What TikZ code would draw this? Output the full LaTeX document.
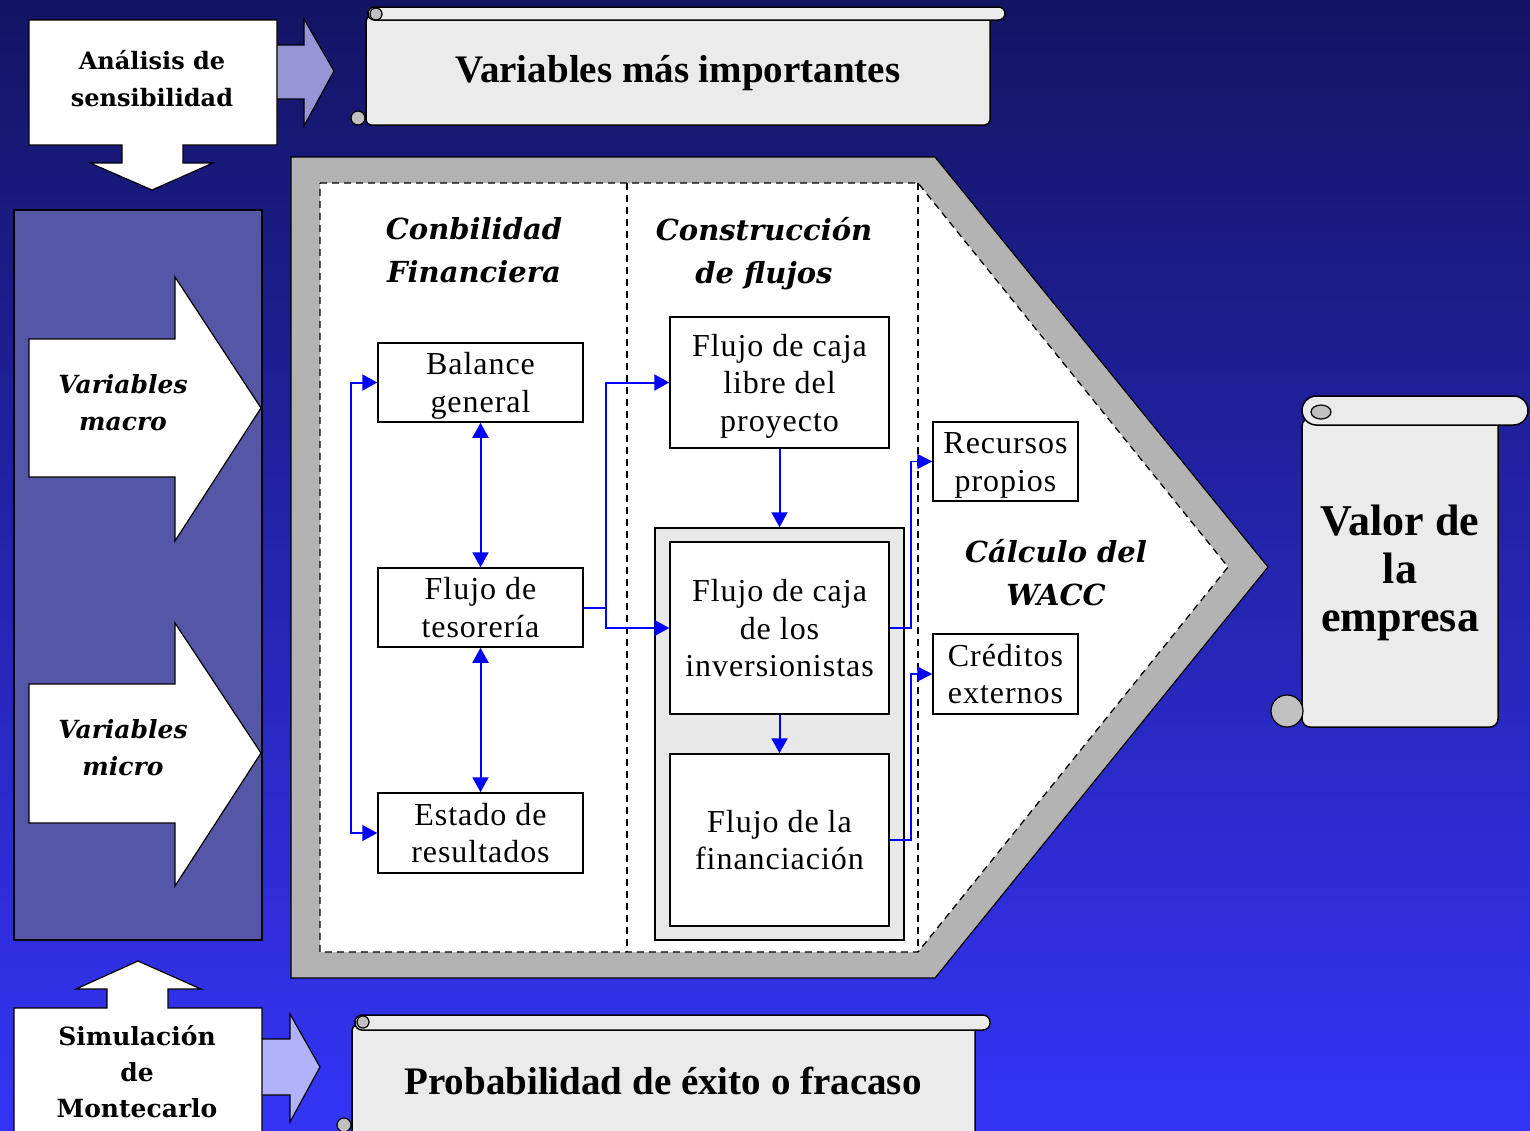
\documentclass[tikz,border=0pt]{standalone}
\usepackage{fontspec}
\setmainfont{Liberation Serif}
\newfontfamily\dvserif{DejaVu Serif}
\newfontfamily\boxfont[LetterSpace=3]{Liberation Serif}
\usetikzlibrary{arrows.meta}
\definecolor{bgtop}{RGB}{20,20,100}
\definecolor{bgmid}{RGB}{35,35,172}
\definecolor{bgbot}{RGB}{52,52,248}
\definecolor{framegray}{RGB}{179,179,179}
\definecolor{scrollfill}{RGB}{235,235,235}
\definecolor{curlgray}{RGB}{192,192,192}
\definecolor{colfill}{RGB}{86,86,166}
\definecolor{patA}{RGB}{150,150,215}
\definecolor{patB}{RGB}{178,178,250}
\definecolor{contfill}{RGB}{232,232,232}
\definecolor{linkblue}{RGB}{0,0,255}
\newcommand{\tstr}{\rule{0pt}{30pt}}
\newcommand{\bstr}{\rule[-8pt]{0pt}{8pt}}
\begin{document}
\begin{tikzpicture}[x=1pt,y=-1pt,
  outl/.style={draw=black, line width=1.2pt},
  scrollbody/.style={draw=black, line width=1.5pt, fill=scrollfill},
  curl/.style={draw=black, line width=1.2pt, fill=curlgray},
  fbox/.style={draw=black, line width=1.5pt, fill=white, inner sep=0pt, align=center, font=\boxfont\fontsize{32}{37.5}\selectfont},
  sidetxt/.style={align=center, inner sep=0pt, font=\dvserif\bfseries\fontsize{24}{37}\selectfont},
  sidetit/.style={align=center, inner sep=0pt, font=\dvserif\bfseries\itshape\fontsize{25}{37}\selectfont},
  sectit/.style={align=center, inner sep=0pt, font=\dvserif\bfseries\itshape\fontsize{29}{43}\selectfont},
  scrolltxt/.style={align=center, inner sep=0pt, font=\bfseries\fontsize{39}{48}\selectfont},
  link/.style={draw=linkblue, line width=2pt},
  linkone/.style={link, -{Triangle[length=15pt,width=16pt]}},
  linktwo/.style={link, {Triangle[length=15pt,width=16pt]}-{Triangle[length=15pt,width=16pt]}},
  linkthin/.style={draw=linkblue, line width=1.5pt, -{Triangle[length=15pt,width=15pt]}},
  dashline/.style={draw=black, line width=1.3pt, dash pattern=on 7pt off 5pt}
]
\useasboundingbox (0,0) rectangle (1530,1130);
\clip (0,0) rectangle (1530,1130);
% background
\shade[top color=bgtop, middle color=bgmid, bottom color=bgbot] (0,0) rectangle (1530,1130);

% ---- Analisis de sensibilidad callout
\filldraw[outl, fill=patA] (270,45) -- (304,45) -- (304,19) -- (334,71) -- (304,126) -- (304,99) -- (270,99) -- cycle;
\filldraw[outl, fill=white] (29,20) -- (277,20) -- (277,145) -- (183,145) -- (183,163) -- (213,163) -- (152,190) -- (90,163) -- (122,163) -- (122,145) -- (29,145) -- cycle;
\node[sidetxt] (ana) at (152,79) {Análisis de\\sensibilidad};

% ---- top scroll
\filldraw[scrollbody, rounded corners=5pt] (366,16) rectangle (990,125);
\filldraw[scrollbody, rounded corners=6.5pt] (368,7) rectangle (1005,20);
\filldraw[curl] (376,14) circle[radius=6];
\filldraw[curl] (358,118) circle[radius=7];
\node[scrolltxt] (vmi) at (678,73) {Variables más importantes};

% ---- left column
\filldraw[outl, fill=colfill] (14,210) rectangle (262,940);
\filldraw[outl, fill=white] (29,339) -- (175,339) -- (175,277) -- (261,408) -- (175,541) -- (175,477) -- (29,477) -- cycle;
\filldraw[outl, fill=white] (29,684) -- (175,684) -- (175,623) -- (261,753) -- (175,886) -- (175,823) -- (29,823) -- cycle;
\node[sidetit] (vmac) at (123,403) {Variables\\macro};
\node[sidetit] (vmic) at (123,748) {Variables\\micro};

% ---- Simulacion callout
\filldraw[outl, fill=patB] (255,1039) -- (290,1039) -- (290,1014) -- (320,1067) -- (290,1122) -- (290,1095) -- (255,1095) -- cycle;
\filldraw[outl, fill=white] (14,1140) -- (14,1008) -- (107,1008) -- (107,989) -- (76,989) -- (138,961) -- (201,989) -- (168,989) -- (168,1008) -- (262,1008) -- (262,1140) -- cycle;
\node[sidetxt, font=\dvserif\bfseries\fontsize{25}{36}\selectfont] (sim) at (137,1072) {Simulación\\de\\Montecarlo};

% ---- bottom scroll
\filldraw[scrollbody, rounded corners=5pt] (352,1025) rectangle (975,1145);
\filldraw[scrollbody, rounded corners=7pt] (355,1015) rectangle (990,1030);
\filldraw[curl] (363,1022) circle[radius=6];
\filldraw[curl] (344,1125) circle[radius=7];
\node[scrolltxt] (prob) at (663,1081) {Probabilidad de éxito o fracaso};

% ---- big pentagon frame
\filldraw[draw=black, line width=1.2pt, fill=framegray] (291,157) -- (935,157) -- (1268,567) -- (935,978) -- (291,978) -- cycle;
\filldraw[dashline, fill=white] (320,183) -- (918,183) -- (1228,567) -- (918,952) -- (320,952) -- cycle;
\draw[dashline] (918,183) -- (918,952);
\draw[dashline] (627,183) -- (627,952);

\node[sectit] (conb) at (474,250) {Conbilidad\\Financiera};
\node[sectit] (constr) at (764,254) {Construcción\\de flujos};
\node[sectit] (wacc) at (1056,573) {Cálculo del\\WACC};

% ---- boxes
\node[fbox, minimum width=205pt, minimum height=79pt] (bal) at (480.5,382.5) {\tstr Balance\\general\bstr};
\node[fbox, minimum width=205pt, minimum height=79pt] (tes) at (480.5,607.5) {\tstr Flujo de\\tesorería\bstr};
\node[fbox, minimum width=205pt, minimum height=80pt] (est) at (480.5,833) {\tstr Estado de\\resultados\bstr};
\node[fbox, minimum width=219pt, minimum height=131pt] (fcl) at (779.5,382.5) {\tstr Flujo de caja\\libre del\\proyecto\bstr};
\node[draw=black, line width=1.5pt, fill=contfill, minimum width=249pt, minimum height=412pt, inner sep=0pt] (cont) at (779.5,734) {};
\node[fbox, minimum width=219pt, minimum height=172pt] (inv) at (779.5,628) {\tstr Flujo de caja\\de los\\inversionistas\bstr};
\node[fbox, minimum width=219pt, minimum height=172pt] (fin) at (779.5,840) {\tstr Flujo de la\\financiación\bstr};
\node[fbox, minimum width=145pt, minimum height=79pt] (rec) at (1005.5,461.5) {\tstr Recursos\\propios\bstr};
\node[fbox, minimum width=145pt, minimum height=80pt] (cred) at (1005.5,674) {\tstr Créditos\\externos\bstr};

% ---- connectors
\draw[linktwo] (bal.south) -- (tes.north);
\draw[linktwo] (tes.south) -- (est.north);
\draw[linktwo] (bal.west) -- ++(-26,0) |- (est.west);
\coordinate (tesj) at ([xshift=22pt]tes.east);
\draw[link] (tes.east) -- (tesj);
\draw[linkone] (tesj) |- (fcl.west);
\draw[linkone] (tesj) |- (inv.west);
\draw[linkone] (fcl.south) -- (cont.north);
\draw[linkone] (inv.south) -- (fin.north);
\draw[linkthin] (inv.east) -- ++(21,0) |- (rec.west);
\draw[linkthin] (fin.east) -- ++(21,0) |- (cred.west);

% ---- right scroll
\filldraw[scrollbody, rounded corners=8pt] (1302,418) rectangle (1498,727);
\filldraw[scrollbody, rounded corners=14.5pt] (1302,396) rectangle (1528,425);
\filldraw[curl] (1321,412) ellipse[x radius=10, y radius=7];
\filldraw[curl] (1287,711) circle[radius=16];
\node[scrolltxt, font=\bfseries\fontsize{44}{48}\selectfont] (valor) at (1400,573) {Valor de\\la\\empresa};
\end{tikzpicture}
\end{document}
